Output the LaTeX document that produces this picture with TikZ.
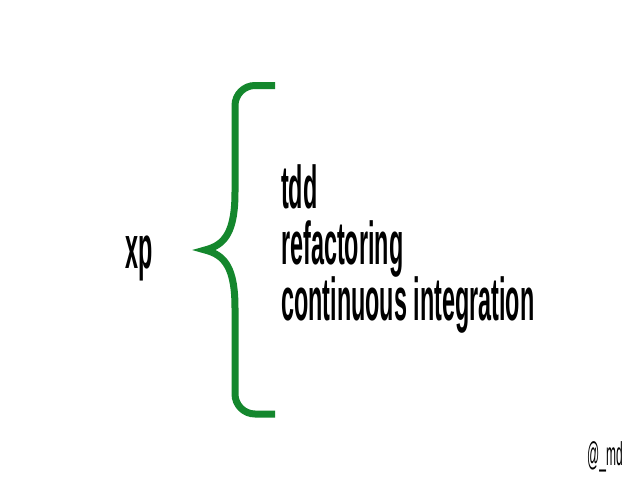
\documentclass[tikz,border=0pt]{standalone}
\usepackage{fontspec}
\setmainfont{Liberation Sans}
\definecolor{bracegreen}{RGB}{20,135,45}
\tikzset{
  bigtext/.style={anchor=base west, inner sep=0pt, font=\fontsize{55}{62}\selectfont\bfseries},
  smalltext/.style={anchor=base west, inner sep=0pt, font=\fontsize{30}{36}\selectfont},
  bracestyle/.style={draw=bracegreen, line width=7pt, line join=miter, line cap=butt}
}
\newcommand{\narrow}[1]{\scalebox{0.425}[1.1]{#1}}
\begin{document}
\begin{tikzpicture}[x=1pt,y=-1pt]
\useasboundingbox[fill=white] (0,0) rectangle (638,479);
\node[bigtext] (xp) at (125,268) {\narrow{xp}};
\node[bigtext] (tdd) at (281,208) {\narrow{tdd}};
\node[bigtext] (ref) at (281,264) {\narrow{refactoring}};
\node[bigtext] (ci) at (281,320) {\narrow{continuous integration}};
\node[smalltext] (md) at (587,465) {\scalebox{0.4}[1.1]{@\_md}};
\coordinate (tip) at (205,250);
\draw[bracestyle] (275,85.5) -- (255,85.5)
  .. controls (244,85.5) and (235,94.5) .. (235,105.5)
  -- (235,192)
  .. controls (235,232) and (225,245) .. (tip)
  .. controls (225,255) and (235,268) .. (235,308)
  -- (235,394)
  .. controls (235,405) and (244,414) .. (255,414)
  -- (275,414);
\end{tikzpicture}
\end{document}
